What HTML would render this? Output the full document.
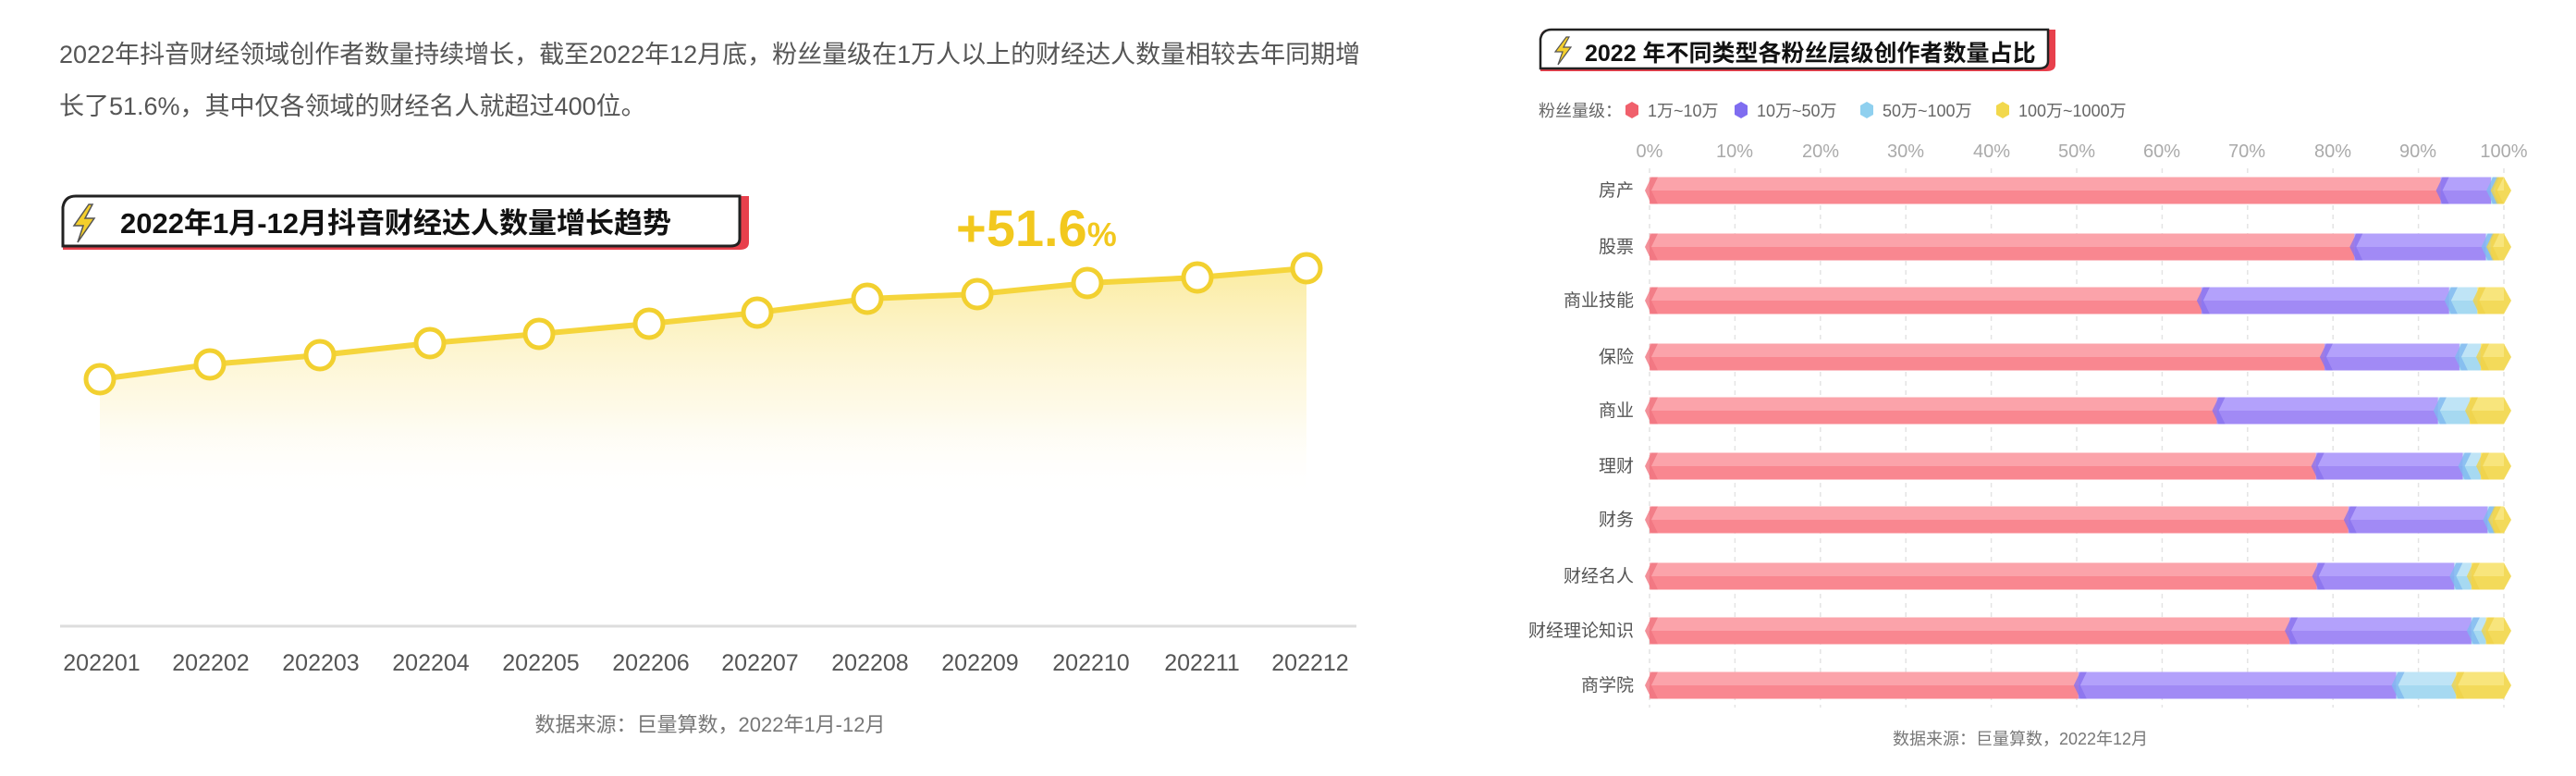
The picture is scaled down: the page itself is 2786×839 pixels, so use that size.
<!DOCTYPE html>
<html><head><meta charset="utf-8"><style>
html,body{margin:0;padding:0;background:#fff;}
body{width:2786px;height:834px;overflow:hidden;}
svg text{font-family:"Liberation Sans","Noto Sans CJK SC",sans-serif;}
</style></head><body>
<svg id="s" width="2786" height="834" viewBox="0 0 2786 834" xmlns="http://www.w3.org/2000/svg">
<defs>
<linearGradient id="ag" x1="0" y1="0" x2="0" y2="1">
<stop offset="0" stop-color="#f7dc55" stop-opacity="0.55"/>
<stop offset="0.6" stop-color="#fbeaa0" stop-opacity="0.25"/>
<stop offset="1" stop-color="#fff" stop-opacity="0"/>
</linearGradient>
</defs>
<text x="64" y="68" font-size="27" fill="#555">2022年抖音财经领域创作者数量持续增长，截至2022年12月底，粉丝量级在1万人以上的财经达人数量相较去年同期增</text>
<text x="64" y="124" font-size="27" fill="#555">长了51.6%，其中仅各领域的财经名人就超过400位。</text>
<path d="M810 212 L810 262 Q810 270 800 270 L68 270 L68 222 Q68 212 80 212 Z" fill="#e8404c"/>
<path d="M800 212 L800 258 Q800 266 790 266 L68 266 L68 224 Q70 212 82 212 Z" fill="#fff" stroke="#222" stroke-width="3"/>
<polygon points="96,221 80,244 90,244 84,262 102,236 92,236 100,221" fill="#f4cf2c" stroke="#555" stroke-width="1.5"/>
<text x="130" y="252" font-size="31" font-weight="bold" fill="#111">2022年1月-12月抖音财经达人数量增长趋势</text>
<text x="1034" y="266" font-size="56" font-weight="bold" fill="#f2c81e">+51.6<tspan font-size="36">%</tspan></text>
<polygon points="108,410 227,394 346,384 465,371 583,361 702,350 819,338 938,323 1057,318 1176,306 1295,300 1413,290 1413,540 108,540" fill="url(#ag)"/>
<polyline points="108,410 227,394 346,384 465,371 583,361 702,350 819,338 938,323 1057,318 1176,306 1295,300 1413,290" fill="none" stroke="#f5d53c" stroke-width="6"/>
<g fill="#fff" stroke="#f2d030" stroke-width="5">
<circle cx="108" cy="410" r="15"/><circle cx="227" cy="394" r="15"/><circle cx="346" cy="384" r="15"/><circle cx="465" cy="371" r="15"/><circle cx="583" cy="361" r="15"/><circle cx="702" cy="350" r="15"/><circle cx="819" cy="338" r="15"/><circle cx="938" cy="323" r="15"/><circle cx="1057" cy="318" r="15"/><circle cx="1176" cy="306" r="15"/><circle cx="1295" cy="300" r="15"/><circle cx="1413" cy="290" r="15"/>
</g>
<line x1="65" y1="677" x2="1467" y2="677" stroke="#ddd" stroke-width="3"/>
<g font-size="25" fill="#555" text-anchor="middle">
<text x="110" y="725">202201</text><text x="228" y="725">202202</text><text x="347" y="725">202203</text><text x="466" y="725">202204</text><text x="585" y="725">202205</text><text x="704" y="725">202206</text><text x="822" y="725">202207</text><text x="941" y="725">202208</text><text x="1060" y="725">202209</text><text x="1180" y="725">202210</text><text x="1300" y="725">202211</text><text x="1417" y="725">202212</text>
</g>
<text x="768" y="791" font-size="22" fill="#777" text-anchor="middle">数据来源：巨量算数，2022年1月-12月</text>

<path d="M2223 32 L2223 70 Q2223 77 2213 77 L1666 77 L1666 40 Q1666 32 1676 32 Z" fill="#e8404c"/>
<path d="M2215 32 L2215 66 Q2215 74 2205 74 L1666 74 L1666 42 Q1668 32 1678 32 Z" fill="#fff" stroke="#222" stroke-width="2.5"/>
<polygon points="1694,40 1682,56 1690,56 1685,70 1699,51 1691,51 1697,40" fill="#f4cf2c" stroke="#555" stroke-width="1.2"/>
<text x="1714" y="66" font-size="25" font-weight="bold" fill="#111">2022 年不同类型各粉丝层级创作者数量占比</text>
<g font-size="18" fill="#666">
<text x="1664" y="126">粉丝量级：</text>
<polygon points="1765,110 1772,114 1772,124 1765,128 1758,124 1758,114" fill="#f0606c"/><text x="1782" y="126">1万~10万</text>
<polygon points="1883,110 1890,114 1890,124 1883,128 1876,124 1876,114" fill="#7f6df0"/><text x="1900" y="126">10万~50万</text>
<polygon points="2019,110 2026,114 2026,124 2019,128 2012,124 2012,114" fill="#8fd0ef"/><text x="2036" y="126">50万~100万</text>
<polygon points="2166,110 2173,114 2173,124 2166,128 2159,124 2159,114" fill="#f2d84c"/><text x="2183" y="126">100万~1000万</text>
</g>
<g id="grid" stroke="#e4e4e4" stroke-width="1.5" stroke-dasharray="5,5"></g>
<g font-size="20" fill="#aaa" text-anchor="middle">
<text x="1784" y="170">0%</text><text x="1876" y="170">10%</text><text x="1969" y="170">20%</text><text x="2061" y="170">30%</text><text x="2154" y="170">40%</text><text x="2246" y="170">50%</text><text x="2338" y="170">60%</text><text x="2430" y="170">70%</text><text x="2523" y="170">80%</text><text x="2615" y="170">90%</text><text x="2708" y="170">100%</text>
</g>
<g id="bars"></g>
<g font-size="19" fill="#555" text-anchor="end">
<text x="1767" y="212">房产</text><text x="1767" y="273">股票</text><text x="1767" y="331">商业技能</text><text x="1767" y="392">保险</text><text x="1767" y="450">商业</text><text x="1767" y="510">理财</text><text x="1767" y="568">财务</text><text x="1767" y="629">财经名人</text><text x="1767" y="688">财经理论知识</text><text x="1767" y="747">商学院</text>
</g>
<text x="2185" y="805" font-size="18" fill="#777" text-anchor="middle">数据来源：巨量算数，2022年12月</text>
</svg>
<script>
var ns="http://www.w3.org/2000/svg";
function el(p,t,a){var e=document.createElementNS(ns,t);for(var k in a)e.setAttribute(k,a[k]);p.appendChild(e);return e;}
var g=document.getElementById('grid');
for(var i=0;i<=10;i++){var x=1784+i*92.4;el(g,'line',{x1:x,y1:182,x2:x,y2:765});}
var rows=[[206,92.6,98.5,99],[267,82.5,97.9,98.5],[325,64.6,93.6,96.9],[386,79,94.8,97.3],[444,66.4,92.3,96],[504,78,95.2,97.3],[562,81.8,98.1,98.7],[623,78.1,94.2,96.2],[682,74.9,96.2,97.9],[741,50.2,87.4,94.4]];
var cols=[["#fba3aa","#f98790","#f07480"],["#b3a1fb","#a18af5","#8a72ee"],["#bfe4f6","#a6d9f1","#7fb8f0"],["#f8e57c","#f3da5a","#efd24a"]];
var b=document.getElementById('bars');
function X(p){return 1784+p*9.24;}
rows.forEach(function(r){
 var y=r[0],h=29,t=y-h/2,edges=[0,r[1],r[2],r[3],100];
 for(var j=0;j<4;j++){
  var x0=X(edges[j]),x1=X(edges[j+1]);
  el(b,'rect',{x:x0,y:t,width:Math.max(0,x1-x0),height:h/2,fill:cols[j][0]});
  el(b,'rect',{x:x0,y:y,width:Math.max(0,x1-x0),height:h/2,fill:cols[j][1]});
 }
 for(var j=0;j<4;j++){
  var x0=X(edges[j]);
  el(b,'polygon',{points:(x0-5)+','+y+' '+(x0+2)+','+t+' '+(x0+9)+','+t+' '+(x0+2)+','+y+' '+(x0+9)+','+(t+h)+' '+(x0+2)+','+(t+h),fill:cols[j][2],opacity:0.8});
 }
 var xe=X(100);
 el(b,'polygon',{points:xe+','+t+' '+(xe+8)+','+y+' '+xe+','+(t+h),fill:cols[3][1]});
});
</script>
</body></html>
